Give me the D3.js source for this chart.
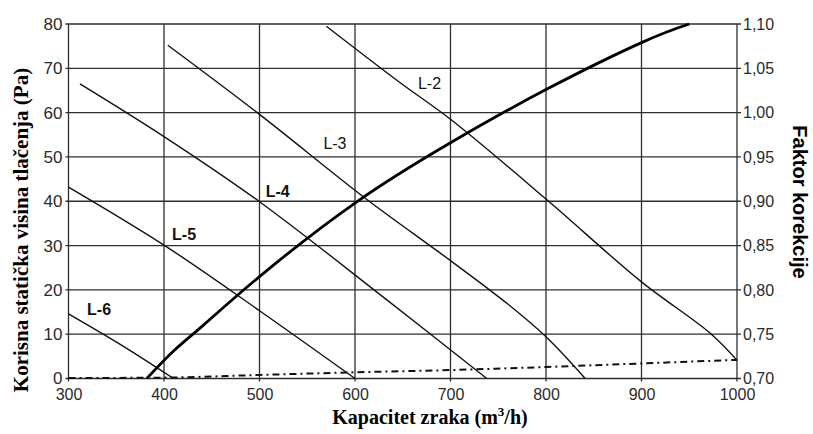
<!DOCTYPE html>
<html><head><meta charset="utf-8">
<script src="https://cdn.jsdelivr.net/npm/d3@7"></script>
<style>body{margin:0;background:#fff}svg{display:block}</style>
</head><body><svg id="c" width="813" height="434"></svg>
<script>
// ---- data ----
const xTicks = [300,400,500,600,700,800,900,1000];
const yTicks = [0,10,20,30,40,50,60,70,80];
const rightTicks = ["0,70","0,75","0,80","0,85","0,90","0,95","1,00","1,05","1,10"];
const rightTickValues = [0.70,0.75,0.80,0.85,0.90,0.95,1.00,1.05,1.10];
const L2 = [[570,79.5],[647,66.8],[700,58.5],[800,40.5],[900,21.8],[972,10.2],[1000,4.1]];
const L3 = [[404,75.2],[500,59.6],[610,40.8],[700,26.6],[760,16.8],[800,9.4],[841,0]];
const L4 = [[312,66.5],[400,54.6],[500,39.9],[633,17.8],[738,0]];
const L5 = [[300,43.2],[400,30.1],[500,15.3],[600,0]];
const L6 = [[300,14.6],[355,7.6],[410,0]];
const factorX = [382,410,441,500,600,700,800,900,950];
const factorY = [0.700,0.731,0.760,0.815,0.898,0.966,1.026,1.079,1.100];
const dashX = [300,400,500,600,700,800,900,1000];
const dashY = [0.1,0.2,0.8,1.4,1.9,2.6,3.4,4.2];
const curveLabels = [
  {text:"L-2", x:678, y:66.6, bold:false},
  {text:"L-3", x:579, y:53, bold:false},
  {text:"L-4", x:519, y:42.3, bold:true},
  {text:"L-5", x:421, y:32.5, bold:true},
  {text:"L-6", x:332, y:15.6, bold:true}
];

// ---- chart ----
const svg = d3.select("#c");
const x = d3.scaleLinear().domain([300,1000]).range([68.5,737]);
const y = d3.scaleLinear().domain([0,80]).range([378.5,24]);
const yR = d3.scaleLinear().domain([0.70,1.10]).range([378.5,24]);

const grid = svg.append("g");
grid.selectAll("line.v").data(xTicks).enter().append("line")
  .attr("x1",d=>x(d)).attr("x2",d=>x(d)).attr("y1",y(80)).attr("y2",y(0)+3)
  .attr("stroke","#2e2e2e").attr("stroke-width",1.3);
grid.selectAll("line.h").data(yTicks).enter().append("line")
  .attr("x1",x(300)-3).attr("x2",x(1000)+4).attr("y1",d=>y(d)).attr("y2",d=>y(d))
  .attr("stroke","#2e2e2e").attr("stroke-width",1.3);

const tickFont = "Liberation Sans, Arial, sans-serif";
const axL = svg.append("g").attr("transform",`translate(${x(300)-6},0)`)
  .call(d3.axisLeft(y).tickValues(yTicks).tickSize(0).tickPadding(0));
axL.select(".domain").remove();
axL.selectAll("text").attr("font-family",tickFont).attr("font-size",17).attr("fill","#2a2a2a");

const axB = svg.append("g").attr("transform",`translate(0,${y(0)+7})`)
  .call(d3.axisBottom(x).tickValues(xTicks).tickFormat(d3.format("d")).tickSize(0).tickPadding(3));
axB.select(".domain").remove();
axB.selectAll("text").attr("font-family",tickFont).attr("font-size",16).attr("fill","#2a2a2a");

const axR = svg.append("g").attr("transform",`translate(${x(1000)+6},0)`)
  .call(d3.axisRight(yR).tickValues(rightTickValues).tickFormat((d,i)=>rightTicks[i]).tickSize(0).tickPadding(0));
axR.select(".domain").remove();
axR.selectAll("text").attr("font-family",tickFont).attr("font-size",16).attr("fill","#2a2a2a");

// curves
const line = d3.line().x(d=>x(d[0])).y(d=>y(d[1])).curve(d3.curveCatmullRom.alpha(0.5));
[L2,L3,L4,L5,L6].forEach(s=>{
  svg.append("path").attr("d",line(s)).attr("fill","none").attr("stroke","#111").attr("stroke-width",1.4);
});
const factorLine = d3.line().x((d,i)=>x(factorX[i])).y(d=>yR(d)).curve(d3.curveNatural);
svg.append("path").attr("d",factorLine(factorY)).attr("fill","none").attr("stroke","#000").attr("stroke-width",2.8);

const dashLine = d3.line().x((d,i)=>x(dashX[i])).y(d=>y(d)).curve(d3.curveMonotoneX);
svg.append("path").attr("d",dashLine(dashY)).attr("fill","none").attr("stroke","#111")
  .attr("stroke-width",2).attr("stroke-dasharray","7,4,2,4");

// curve labels
svg.selectAll("text.cl").data(curveLabels).enter().append("text")
  .attr("x",d=>x(d.x)).attr("y",d=>y(d.y)).attr("text-anchor","middle").attr("dy","0.35em")
  .attr("font-family",tickFont).attr("font-size",16)
  .attr("font-weight",d=>d.bold?"bold":"normal").attr("fill","#111").text(d=>d.text);

// titles
svg.append("text").attr("transform","translate(28,230) rotate(-90)").attr("text-anchor","middle")
  .attr("font-family","Liberation Serif, Times New Roman, serif").attr("font-weight","bold").attr("font-size",21)
  .attr("fill","#000").text("Korisna statička visina tlačenja (Pa)");

const xt = svg.append("text").attr("x",430).attr("y",424).attr("text-anchor","middle")
  .attr("font-family","Liberation Serif, Times New Roman, serif").attr("font-weight","bold").attr("font-size",20).attr("fill","#000");
xt.append("tspan").text("Kapacitet zraka (m");
xt.append("tspan").attr("font-size",13).attr("dy",-8).text("3");
xt.append("tspan").attr("dy",8).text("/h)");

svg.append("text").attr("transform","translate(793,202) rotate(90)").attr("text-anchor","middle")
  .attr("font-family",tickFont).attr("font-weight","bold").attr("font-size",20)
  .attr("fill","#000").text("Faktor korekcije");
</script></body></html>
